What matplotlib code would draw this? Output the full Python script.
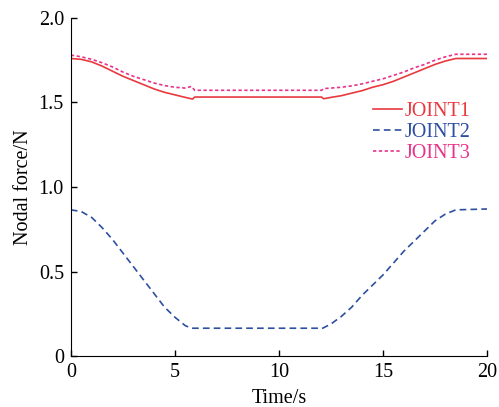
import numpy as np
import matplotlib
matplotlib.use('Agg')
import matplotlib.pyplot as plt

plt.rcParams['font.family'] = 'Liberation Serif'
plt.rcParams['mathtext.fontset'] = 'stix'

# joint 1 nodal force
t1 = [0, 0.5, 1, 1.5, 2, 2.5, 3, 3.5, 4, 4.5, 5, 5.5, 5.85, 5.95,
      12.05, 12.15, 12.5, 13, 13.5, 14, 14.5, 15, 15.5, 16, 16.5, 17, 17.5, 18, 18.5, 20]
f1 = [1.76, 1.755, 1.74, 1.715, 1.685, 1.655, 1.63, 1.605, 1.58, 1.56, 1.545, 1.53, 1.52, 1.532,
      1.532, 1.522, 1.53, 1.54, 1.555, 1.57, 1.59, 1.605, 1.625, 1.65, 1.675, 1.70, 1.725, 1.745, 1.76, 1.76]

# joint 2 nodal force
t2 = [0, 0.5, 1, 1.5, 2, 2.5, 3, 3.5, 4, 4.5, 5, 5.5, 5.8,
      12.1, 12.5, 13, 13.5, 14, 14.5, 15, 15.5, 16, 16.5, 17, 17.5, 18, 18.5, 20]
f2 = [0.865, 0.855, 0.82, 0.76, 0.69, 0.61, 0.53, 0.45, 0.37, 0.29, 0.23, 0.18, 0.165,
      0.165, 0.19, 0.235, 0.29, 0.36, 0.42, 0.48, 0.55, 0.62, 0.68, 0.74, 0.80, 0.84, 0.865, 0.87]

# joint 3 nodal force
t3 = [0, 0.5, 1, 1.5, 2, 2.5, 3, 3.5, 4, 4.5, 5, 5.5, 5.8, 5.95,
      12.05, 12.15, 12.5, 13, 13.5, 14, 14.5, 15, 15.5, 16, 16.5, 17, 17.5, 18, 18.5, 20]
f3 = [1.78, 1.77, 1.755, 1.735, 1.71, 1.68, 1.655, 1.635, 1.615, 1.60, 1.59, 1.585, 1.595, 1.572,
      1.572, 1.582, 1.585, 1.59, 1.598, 1.61, 1.625, 1.64, 1.66, 1.68, 1.705, 1.725, 1.75, 1.77, 1.785, 1.785]

fig = plt.figure(figsize=(4.99, 4.07), dpi=100)
ax = fig.add_axes([0.142, 0.125, 0.834, 0.831])

ax.plot(t1, f1, color='#e8393f', lw=1.2, label='JOINT1')
ax.plot(t2, f2, color='#2d4fa0', lw=1.2, ls=(0, (4, 2.5)), label='JOINT2')
ax.plot(t3, f3, color='#e8338a', lw=1.2, ls=(0, (2, 1.5)), label='JOINT3')

ax.set_xlim(0, 20)
ax.set_ylim(0, 2.0)
ax.set_xticks([0, 5, 10, 15, 20])
ax.set_yticks([0, 0.5, 1.0, 1.5, 2.0])
ax.set_yticklabels(['0', '0.5', '1.0', '1.5', '2.0'])
ax.tick_params(direction='in', labelsize=14.5, length=4, width=1, pad=5)
ax.spines['top'].set_visible(False)
ax.spines['right'].set_visible(False)
ax.set_xlabel('Time/s', fontsize=14.5, labelpad=5)
ax.set_ylabel('Nodal force/N', fontsize=14.5, labelpad=4)

leg = ax.legend(loc='upper left', bbox_to_anchor=(0.682, 0.805), frameon=False,
                fontsize=14.5, labelcolor='linecolor', handlelength=1.45,
                handletextpad=0.15, labelspacing=0.1)

plt.savefig('out.png')
